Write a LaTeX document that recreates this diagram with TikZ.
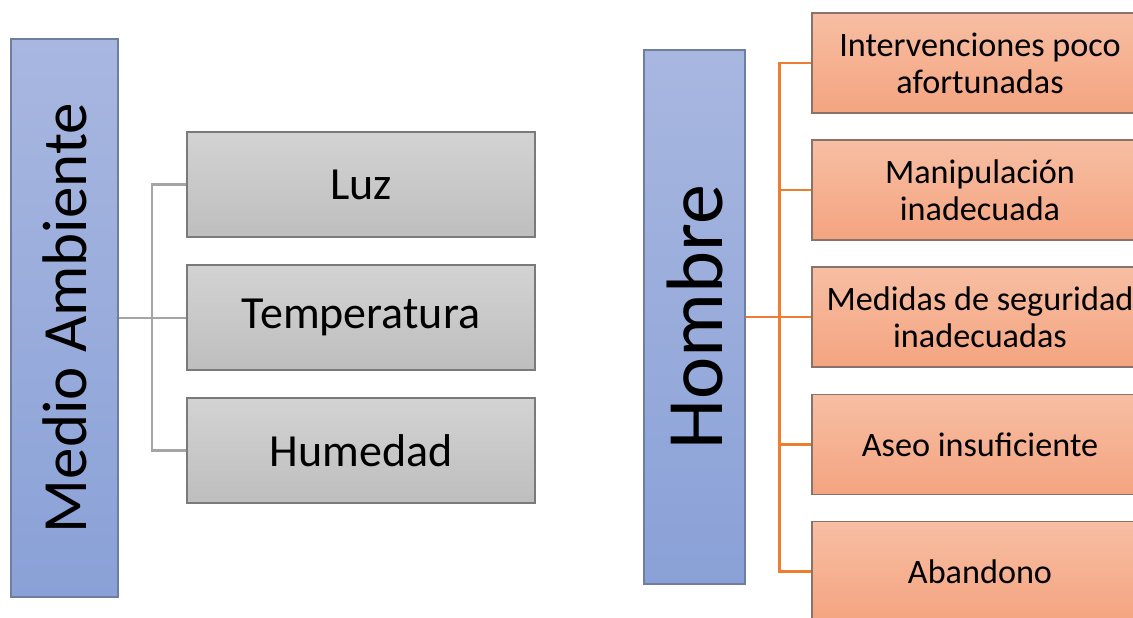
\documentclass[tikz,border=0pt]{standalone}
\usepackage{fontspec}
\setmainfont{Carlito}
\definecolor{bluetop}{HTML}{A8B7E0}
\definecolor{bluebot}{HTML}{8AA1D7}
\definecolor{blueedge}{HTML}{6F7D9E}
\definecolor{graytop}{HTML}{D3D3D3}
\definecolor{graybot}{HTML}{BEBEBE}
\definecolor{grayedge}{HTML}{7A7A7A}
\definecolor{orgtop}{HTML}{F7BEA3}
\definecolor{orgbot}{HTML}{F4A480}
\definecolor{orgedge}{HTML}{8A7268}
\definecolor{gline}{HTML}{A5A5A5}
\definecolor{oline}{HTML}{ED7D31}
\tikzset{
  bluebox/.style={draw=blueedge, line width=1.2pt, shading=axis, top color=bluetop, bottom color=bluebot, inner sep=0pt},
  graybox/.style={draw=grayedge, line width=1.2pt, shading=axis, top color=graytop, bottom color=graybot, minimum width=348pt, minimum height=105pt, inner sep=0pt, font=\fontsize{46}{50}\selectfont},
  orgbox/.style={draw=orgedge, line width=1.2pt, shading=axis, top color=orgtop, bottom color=orgbot, minimum width=336pt, minimum height=100pt, inner sep=0pt, align=center, font=\fontsize{34.2}{37}\selectfont},
  gconn/.style={draw=gline, line width=2.2pt},
  oconn/.style={draw=oline, line width=2.5pt},
}
\begin{document}
\begin{tikzpicture}[x=1pt,y=-1pt]
\useasboundingbox (0,0) rectangle (1133,618);
\clip (0,0) rectangle (1133,618);
% left group
\node[bluebox, minimum width=107pt, minimum height=558pt] (ma) at (64.5,318) {\rotatebox{90}{\fontsize{63}{70}\selectfont Medio Ambiente}\hspace{7pt}};
\node[graybox] (luz) at (361,184.5) {Luz};
\node[graybox] (temp) at (361,317.5) {\raisebox{-2pt}{Temperatura}};
\node[graybox] (hum) at (361,450.5) {Humedad};
\coordinate (gx) at (152,0);
\draw[gconn] (luz.west) -| (gx |- hum.west) -- (hum.west);
\draw[gconn] (ma.east) -- (ma.east -| temp.west);
% right group
\node[bluebox, minimum width=101pt, minimum height=534pt] (hb) at (694.5,317) {\rotatebox{90}{\fontsize{80}{90}\selectfont Hombre}\hspace{5pt}};
\node[orgbox] (b1) at (980,63) {Intervenciones poco\\afortunadas};
\node[orgbox] (b2) at (980,190) {Manipulación\\inadecuada};
\node[orgbox] (b3) at (980,317) {Medidas de seguridad\\inadecuadas};
\node[orgbox] (b4) at (980,444.5) {Aseo insuficiente};
\node[orgbox] (b5) at (980,571.5) {Abandono};
\coordinate (ox) at (779.5,0);
\draw[oconn] (b1.west) -| (ox |- b5.west) -- (b5.west);
\draw[oconn] (b2.west) -- (ox |- b2.west);
\draw[oconn] (b4.west) -- (ox |- b4.west);
\draw[oconn] (hb.east) -- (b3.west);
\end{tikzpicture}
\end{document}
